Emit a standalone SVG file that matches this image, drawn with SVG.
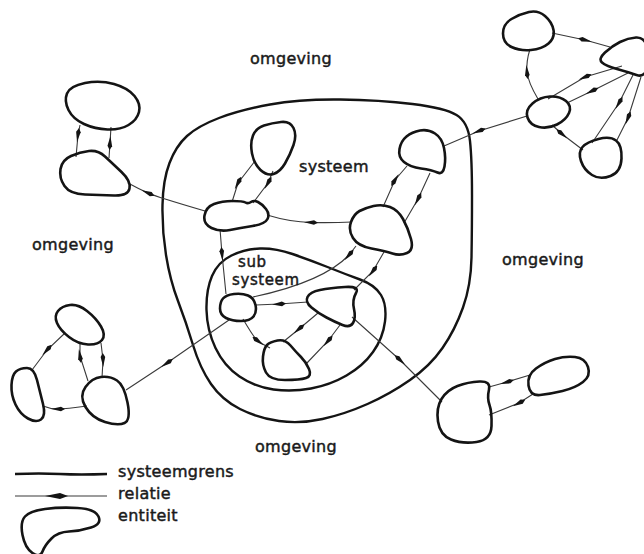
<svg xmlns="http://www.w3.org/2000/svg" width="644" height="554" viewBox="0 0 644 554">
<style>
.ent{fill:none;stroke:#141414;stroke-width:2.6;stroke-linejoin:round}
.bnd{fill:none;stroke:#141414;stroke-width:2.4;stroke-linejoin:round}
.rel{fill:none;stroke:#3a3a3a;stroke-width:1.1;marker-mid:url(#arr)}
.lbl{font-family:"DejaVu Sans",sans-serif;font-size:16px;fill:#1a1a1a;stroke:#1a1a1a;stroke-width:0.45;letter-spacing:0.3px}
.sml{font-size:15px;letter-spacing:0.6px}
</style>
<defs>
<marker id="arr" markerUnits="userSpaceOnUse" markerWidth="14" markerHeight="6" viewBox="0 0 14 6" refX="7" refY="3" orient="auto">
<path d="M0,3 L10,0.7 L14,3 L10,5.3 Z" fill="#141414"/>
</marker>
</defs>
<rect width="644" height="554" fill="#ffffff"/>

<g id="boundaries">
<path id="systeemgrens" class="bnd" d="M162.5,205 Q163,180 169.5,163 Q176,146 187,136 Q198,126 219,118 Q240,110 270,104.5 Q300,99 340,99.5 Q380,100 412.5,104 Q445,108 456.5,115 Q468,122 470,141 Q472,160 472,195 Q472,230 471.5,257.5 Q471,285 463,307.5 Q455,330 442.5,348 Q430,366 410,380 Q390,394 367.5,404 Q345,414 322.5,419 Q300,424 279,421 Q258,418 240,409 Q222,400 211,384 Q200,368 193,345 Q186,322 178,301 Q170,280 166,255 Q162,230 162.5,205Z"/>
<path id="subsysteemgrens" class="bnd" d="M212,276 Q218,262 231.5,255.5 Q245,249 260,248.5 Q275,248 292.5,254 Q310,260 327.5,267 Q345,274 360,279.5 Q375,285 381,295 Q387,305 385,321.5 Q383,338 373,352 Q363,366 346.5,375.5 Q330,385 311,388.5 Q292,392 273.5,389.5 Q255,387 239.5,376.5 Q224,366 215.5,348 Q207,330 206.5,310 Q206,290 212,276Z"/>
</g>

<g id="connectors">
<path class="rel" d="M128,183 Q139,189 148,193 T205,211"/>
<path class="rel" d="M76,157 L78,135 L80,125"/>
<path class="rel" d="M111,127 L110,143 L109,158"/>
<path class="rel" d="M232,202 L238,183 L255,161"/>
<path class="rel" d="M253,203 L268,183 L273,171"/>
<path class="rel" d="M226,294 L222,254 L220,229"/>
<path class="rel" d="M267,215 Q290,222 311,222.5 T352,222"/>
<path class="rel" d="M407,166 L395,180 L383,207"/>
<path class="rel" d="M404,223 L418,199 L430,173"/>
<path class="rel" d="M444,146 L479,131 L527,116"/>
<path class="rel" d="M610,47 L585,40 L552,33"/>
<path class="rel" d="M530,49 Q526,62 527,72 T538,99"/>
<path class="rel" d="M548,99 L585,77 L622,66"/>
<path class="rel" d="M567,103 L592,91 L628,73"/>
<path class="rel" d="M583,150 L562,134 L552,125"/>
<path class="rel" d="M592,143 L619,103 L633,75"/>
<path class="rel" d="M617,140 L628,118 L641,77"/>
<path class="rel" d="M253,297 C295,288 330,275 349,255 L356,246"/>
<path class="rel" d="M354,290 L373,271 L384,252"/>
<path class="rel" d="M256,305 L279,304 L308,302"/>
<path class="rel" d="M270,348 Q262,344 258,341 T243,319"/>
<path class="rel" d="M283,342 L299,329 L318,313"/>
<path class="rel" d="M306,364 L328,341 L340,325"/>
<path class="rel" d="M126,390 L167,363 L229,320"/>
<path class="rel" d="M442,402 L400,360 L352,317"/>
<path class="rel" d="M489,387 L507,382 L530,375"/>
<path class="rel" d="M489,415 L519,403 L533,394"/>
<path class="rel" d="M32,370 L47,350 L65,333"/>
<path class="rel" d="M43,406 Q50,409 58,409 T87,406"/>
<path class="rel" d="M80,342 L80,356 L88,381"/>
<path class="rel" d="M102,378 L103,360 L101,343"/>
</g>

<g id="e1"><path class="ent" d="M67,93.5 Q70,86 85,83 Q100,80 114,84 Q128,88 134.5,96 Q141,104 139,112 Q137,120 128.5,125 Q120,130 107.5,129.5 Q95,129 84,124 Q73,119 68.5,110 Q64,101 67,93.5Z"/></g>
<g id="e2"><path class="ent" d="M60.5,169 Q62,160 71,156 Q80,152 89,151 Q98,150 105,156.5 Q112,163 121.5,172 Q131,181 129.5,188.5 Q128,196 114,195.5 Q100,195 85,194.5 Q70,194 64.5,186 Q59,178 60.5,169Z"/></g>
<g id="b1"><path class="ent" d="M204.5,215.5 Q206,207 214,204 Q222,201 232.5,201 Q243,201 245.5,202.5 Q248,204 251,202 Q254,200 258,202 Q262,204 266,209 Q270,214 267.5,219 Q265,224 252.5,226 Q240,228 230,230 Q220,232 211.5,228 Q203,224 204.5,215.5Z"/></g>
<g id="b2"><path class="ent" d="M253,135.5 Q256,128 264,125.5 Q272,123 281,122 Q290,121 293.5,128 Q297,135 293.5,145 Q290,155 285,163.5 Q280,172 273.5,174 Q267,176 260.5,170 Q254,164 252,153.5 Q250,143 253,135.5Z"/></g>
<g id="b3"><path class="ent" d="M359.5,211 Q365,208 373.5,206 Q382,204 390,207 Q398,210 403,219 Q408,228 411,239 Q414,250 407,253 Q400,256 392.5,253.5 Q385,251 371.5,248.5 Q358,246 353,238 Q348,230 351,222 Q354,214 359.5,211Z"/></g>
<g id="b4"><path class="ent" d="M406.5,136.5 Q412,132 420,130.5 Q428,129 435,133.5 Q442,138 444,148 Q446,158 444.5,166.5 Q443,175 437.5,172.5 Q432,170 421,168.5 Q410,167 404,162 Q398,157 399.5,149 Q401,141 406.5,136.5Z"/></g>
<g id="c1"><path class="ent" d="M223,298.5 Q226,295 234,294 Q242,293 248,295.5 Q254,298 255.5,305 Q257,312 253.5,316.5 Q250,321 241,321 Q232,321 226,318 Q220,315 220,308.5 Q220,302 223,298.5Z"/></g>
<g id="c2"><path class="ent" d="M307.5,297 Q310,292 320,290 Q330,288 345,287 Q360,286 356,293 Q352,300 354,309 Q356,318 353,323 Q350,328 342.5,325 Q335,322 326.5,317.5 Q318,313 311.5,307.5 Q305,302 307.5,297Z"/></g>
<g id="c3"><path class="ent" d="M267,345 Q270,342 277.5,340.5 Q285,339 290.5,345.5 Q296,352 301,357 Q306,362 309,369 Q312,376 306,378 Q300,380 285,380 Q270,380 266,372.5 Q262,365 263,356.5 Q264,348 267,345Z"/></g>
<g id="d1"><path class="ent" d="M511.5,19 Q520,14 529,12 Q538,10 545,16 Q552,22 553.5,30 Q555,38 548.5,43.5 Q542,49 531,50 Q520,51 511.5,47 Q503,43 503,33.5 Q503,24 511.5,19Z"/></g>
<g id="d2"><path class="ent" d="M605,52.5 Q612,46 620,42 Q628,38 636,37.5 Q644,37 647,46 Q650,55 647.5,66.5 Q645,78 636.5,75 Q628,72 617,69 Q606,66 602,62.5 Q598,59 605,52.5Z"/></g>
<g id="d3"><path class="ent" d="M532.5,103.5 Q540,97 550,96.5 Q560,96 566,101 Q572,106 569,113 Q566,120 557,124.5 Q548,129 539,127 Q530,125 527.5,117.5 Q525,110 532.5,103.5Z"/></g>
<g id="d4"><path class="ent" d="M582.5,147 Q587,142 598.5,139 Q610,136 616,140.5 Q622,145 621.5,158.5 Q621,172 610.5,176 Q600,180 592,175 Q584,170 581,161 Q578,152 582.5,147Z"/></g>
<g id="f1"><path class="ent" d="M441.5,399 Q447,390 457.5,386 Q468,382 479.5,381.5 Q491,381 489,389.5 Q487,398 489.5,405 Q492,412 491.5,426 Q491,440 476.5,442 Q462,444 451,439.5 Q440,435 438,421.5 Q436,408 441.5,399Z"/></g>
<g id="f2"><path class="ent" d="M536,368.5 Q545,362 555,359 Q565,356 575,357 Q585,358 588,367 Q591,376 583,382 Q575,388 562.5,391 Q550,394 540,395 Q530,396 528.5,385.5 Q527,375 536,368.5Z"/></g>
<g id="g1"><path class="ent" d="M58,311 Q62,306 70,305 Q78,304 87,311 Q96,318 101,326.5 Q106,335 102,340 Q98,345 88,344.5 Q78,344 69,337 Q60,330 57,323 Q54,316 58,311Z"/></g>
<g id="g2"><path class="ent" d="M16,371.5 Q20,368 27,368 Q34,368 37,380 Q40,392 43,404 Q46,416 41,419.5 Q36,423 28,418.5 Q20,414 15.5,404.5 Q11,395 11.5,385 Q12,375 16,371.5Z"/></g>
<g id="g3"><path class="ent" d="M85.5,387 Q92,378 101,377 Q110,376 117,380.5 Q124,385 127.5,402.5 Q131,420 124.5,423 Q118,426 105,422 Q92,418 85.5,407 Q79,396 85.5,387Z"/></g>

<g id="labels">
<text class="lbl" x="250" y="64">omgeving</text>
<text class="lbl" x="32" y="250">omgeving</text>
<text class="lbl" x="502" y="265">omgeving</text>
<text class="lbl" x="255" y="452">omgeving</text>
<text class="lbl" x="299" y="172">systeem</text>
<text class="lbl sml" x="238" y="267">sub</text>
<text class="lbl sml" x="232" y="285">systeem</text>
</g>

<g id="legend">
<path class="bnd" d="M15,474 Q40,473 60,474 T107,474"/>
<line x1="15" y1="496" x2="107" y2="496" stroke="#3a3a3a" stroke-width="1.1"/>
<path d="M45,496 L60,493 L68,496 L60,499 Z" fill="#141414"/>
<path class="ent" d="M25,516.5 Q30,511 45,509 Q60,507 77.5,508 Q95,509 98.5,516.5 Q102,524 91,527.5 Q80,531 69,531.5 Q58,532 51.5,538.5 Q45,545 42.5,551.5 Q40,558 32.5,553 Q25,548 22.5,535 Q20,522 25,516.5Z"/>
<text class="lbl" x="118" y="477">systeemgrens</text>
<text class="lbl" x="118" y="499">relatie</text>
<text class="lbl" x="118" y="521">entiteit</text>
</g>
</svg>
